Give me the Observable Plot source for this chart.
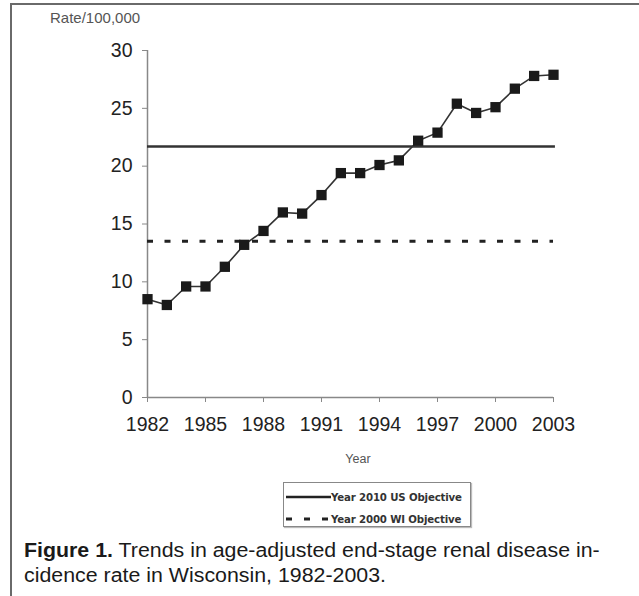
<!DOCTYPE html>
<html>
<head>
<meta charset="utf-8">
<script src="https://cdn.jsdelivr.net/npm/d3@7"></script>
<script src="https://cdn.jsdelivr.net/npm/@observablehq/plot@0.6"></script>
<style>
  html, body { margin: 0; padding: 0; background: #fff; }
  body { width: 639px; height: 596px; position: relative; overflow: hidden; font-family: "Liberation Sans", Arial, sans-serif; }
  #frame { position: absolute; left: 10px; top: 3px; width: 800px; height: 800px; border-left: 2px solid #6a6a6a; border-top: 2px solid #6a6a6a; }
  #chart { position: absolute; left: 0; top: 0; }
  #ylab { position: absolute; left: 50px; top: 9px; font-size: 15px; color: #555; }
  #xlab { position: absolute; left: 335px; top: 452px; width: 46px; text-align: center; font-size: 12.5px; color: #555; }
  #legend { position: absolute; left: 283px; top: 482px; width: 186px; height: 43px; border: 1px solid #888; box-shadow: 1px 1px 1px #bbb; background: #fff; }
  .row { position: absolute; left: 1px; height: 14px; display: flex; align-items: center; font-family: "DejaVu Sans", Verdana, sans-serif; font-weight: bold; font-size: 10.2px; color: #333; white-space: nowrap; letter-spacing: -0.15px; }
  .row svg { display: block; }
  .cap { position: absolute; left: 24px; font-size: 19.5px; line-height: 25px; color: #1a1a1a; white-space: nowrap; transform: scaleX(1.095); transform-origin: 0 0; }
  #cap1 { top: 538px; }
  #cap2 { top: 563px; }
</style>
</head>
<body>
<div id="frame"></div>
<div id="chart"></div>
<div id="ylab">Rate/100,000</div>
<div id="xlab">Year</div>
<div id="legend"></div>
<div class="cap" id="cap1"><b>Figure 1.</b> Trends in age-adjusted end-stage renal disease in-</div>
<div class="cap" id="cap2">cidence rate in Wisconsin, 1982-2003.</div>
<script>
const years = [1982,1983,1984,1985,1986,1987,1988,1989,1990,1991,1992,1993,1994,1995,1996,1997,1998,1999,2000,2001,2002,2003];
const rates = [8.5,8.0,9.6,9.6,11.3,13.2,14.4,16.0,15.9,17.5,19.4,19.4,20.1,20.5,22.2,22.9,25.4,24.6,25.1,26.7,27.8,27.9];
const xTicks = [1982,1985,1988,1991,1994,1997,2000,2003];
const yTicks = [0,5,10,15,20,25,30];
const objectiveNames = ["Year 2010 US Objective", "Year 2000 WI Objective"];
const objectiveValues = [21.7, 13.5];

const data = years.map((y, i) => ({year: y, rate: rates[i]}));
const xMin = years[0], xMax = years[years.length - 1];

const chart = Plot.plot({
  width: 639,
  height: 480,
  marginLeft: 147,
  marginRight: 86,
  marginTop: 50,
  marginBottom: 83,
  style: { fontFamily: "'Liberation Sans', Arial, sans-serif", fontSize: "19px", color: "#222", background: "transparent", overflow: "visible" },
  x: { domain: [xMin, xMax], label: null },
  y: { domain: [0, 30], label: null },
  marks: [
    Plot.axisY({ticks: yTicks, tickSize: 5, tickPadding: 10, stroke: "#888", fill: "#222", fontSize: 19.5, label: null}),
    Plot.axisX({ticks: xTicks, tickFormat: d => String(d), tickSize: 5, tickPadding: 15, stroke: "#888", fill: "#222", fontSize: 19.5, label: null}),
    Plot.ruleX([xMin], {stroke: "#888", strokeWidth: 1.5}),
    Plot.ruleY([0], {stroke: "#888", strokeWidth: 1.5}),
    Plot.ruleY([objectiveValues[0]], {x1: xMin, x2: xMax + 0.1, stroke: "#333", strokeWidth: 2.5}),
    Plot.ruleY([objectiveValues[1]], {x1: xMin, x2: xMax, stroke: "#222", strokeWidth: 3, strokeDasharray: "6,11.5"}),
    Plot.line(data, {x: "year", y: "rate", stroke: "#333", strokeWidth: 1.6}),
    Plot.dot(data, {x: "year", y: "rate", symbol: "square", r: 5.8, fill: "#1a1a1a", stroke: "none"})
  ]
});
document.getElementById("chart").appendChild(chart);

// Legend
const legend = document.getElementById("legend");
objectiveNames.forEach((name, i) => {
  const row = document.createElement("div");
  row.className = "row";
  row.style.top = (i === 0 ? 7 : 29) + "px";
  const ns = "http://www.w3.org/2000/svg";
  const svg = document.createElementNS(ns, "svg");
  svg.setAttribute("width", 46);
  svg.setAttribute("height", 8);
  const ln = document.createElementNS(ns, "line");
  ln.setAttribute("x1", 1); ln.setAttribute("x2", 46);
  ln.setAttribute("y1", 4); ln.setAttribute("y2", 4);
  ln.setAttribute("stroke", "#222");
  ln.setAttribute("stroke-width", i === 0 ? 2.5 : 3);
  if (i === 1) ln.setAttribute("stroke-dasharray", "6,12");
  svg.appendChild(ln);
  row.appendChild(svg);
  const t = document.createElement("span");
  t.textContent = name;
  row.appendChild(t);
  legend.appendChild(row);
});
</script>
</body>
</html>
